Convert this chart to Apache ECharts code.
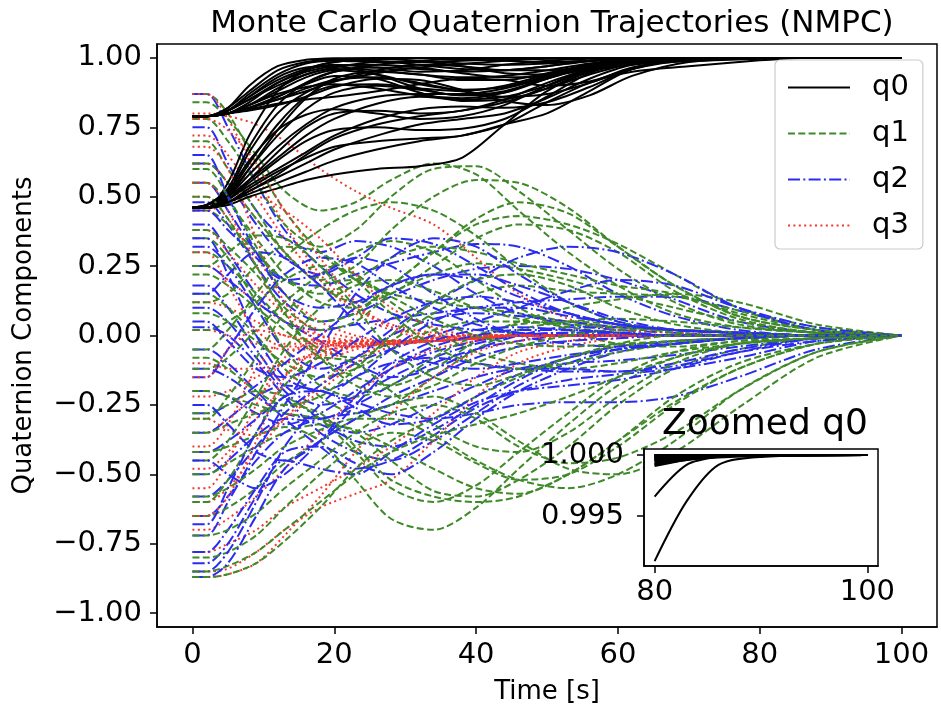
<!DOCTYPE html>
<html>
<head>
<meta charset="utf-8">
<title>Monte Carlo Quaternion Trajectories (NMPC)</title>
<script src="https://cdn.jsdelivr.net/npm/echarts@6/dist/echarts.min.js"></script>
<style>
  html, body { margin: 0; padding: 0; background: #fff; }
  #chart { width: 941px; height: 713px; }
</style>
</head>
<body>
<div id="chart"></div>
<script>
// time samples (s)
var timeQ0 = [0, 2, 5, 8, 12, 16, 20, 26, 32, 38, 44, 50, 56, 62, 70, 80, 83, 86, 90, 100];
var timeQ = [0, 2, 5, 9, 13, 18, 23, 28, 34, 40, 46, 53, 60, 68, 77, 88, 100];

// q0 runs (two starting clusters 0.79 / 0.46)
var q0Runs = [
  [0.79,0.79,0.82,0.90,0.97,0.993,0.999,1.0,1.0,1.0,1.0,1.0,1.0,1.0,1.0,1.0,1.0,1.0,1.0,1.0],
  [0.79,0.79,0.81,0.87,0.94,0.98,0.99,0.985,0.985,0.99,0.995,0.998,1.0,1.0,1.0,0.99995,1.0,1.0,1.0,1.0],
  [0.79,0.79,0.80,0.84,0.91,0.955,0.975,0.965,0.95,0.955,0.975,0.99,0.997,0.999,1.0,0.9998,0.99993,0.99998,1.0,1.0],
  [0.79,0.79,0.80,0.83,0.88,0.93,0.955,0.94,0.905,0.885,0.895,0.935,0.975,0.993,0.998,0.9995,0.9998,0.99993,0.99998,1.0],
  [0.79,0.79,0.80,0.82,0.86,0.905,0.935,0.925,0.875,0.845,0.85,0.89,0.94,0.98,0.996,0.9993,0.9997,0.9999,0.99997,1.0],
  [0.79,0.79,0.81,0.86,0.93,0.965,0.97,0.94,0.89,0.865,0.88,0.925,0.965,0.99,0.998,0.9997,0.9999,0.99996,1.0,1.0],
  [0.79,0.79,0.80,0.82,0.85,0.88,0.915,0.955,0.975,0.97,0.955,0.955,0.97,0.99,0.998,0.99985,0.99995,1.0,1.0,1.0],
  [0.79,0.79,0.80,0.81,0.83,0.86,0.895,0.925,0.92,0.885,0.845,0.83,0.865,0.935,0.985,0.9991,0.9996,0.9998,0.99993,1.0],
  [0.79,0.79,0.81,0.85,0.90,0.94,0.965,0.985,0.985,0.97,0.945,0.94,0.96,0.985,0.998,0.9999,0.99997,1.0,1.0,1.0],
  [0.79,0.79,0.80,0.83,0.87,0.895,0.905,0.89,0.865,0.855,0.875,0.93,0.975,0.994,0.999,0.9996,0.99985,0.99995,1.0,1.0],
  [0.79,0.79,0.82,0.88,0.955,0.985,0.995,0.99,0.975,0.96,0.955,0.97,0.988,0.997,1.0,1.0,1.0,1.0,1.0,1.0],
  [0.79,0.79,0.80,0.815,0.835,0.85,0.86,0.88,0.905,0.925,0.92,0.90,0.915,0.96,0.992,0.9994,0.9997,0.9999,0.99997,1.0],
  [0.79,0.79,0.81,0.86,0.92,0.96,0.985,0.995,0.99,0.98,0.975,0.98,0.99,0.997,1.0,1.0,1.0,1.0,1.0,1.0],
  [0.79,0.79,0.80,0.83,0.89,0.94,0.96,0.955,0.94,0.93,0.935,0.955,0.98,0.995,0.999,0.9998,0.99995,1.0,1.0,1.0],
  [0.79,0.79,0.81,0.85,0.91,0.95,0.97,0.975,0.965,0.945,0.93,0.935,0.96,0.985,0.998,0.9997,0.9999,1.0,1.0,1.0],
  [0.79,0.79,0.80,0.82,0.86,0.91,0.95,0.975,0.99,0.995,0.99,0.985,0.99,0.997,1.0,1.0,1.0,1.0,1.0,1.0],
  [0.79,0.79,0.80,0.82,0.85,0.89,0.92,0.93,0.91,0.88,0.86,0.87,0.91,0.965,0.994,0.9992,0.9996,0.9999,1.0,1.0],
  [0.46,0.46,0.55,0.72,0.88,0.955,0.985,0.997,1.0,1.0,1.0,1.0,1.0,1.0,1.0,1.0,1.0,1.0,1.0,1.0],
  [0.46,0.46,0.52,0.66,0.80,0.875,0.915,0.945,0.965,0.978,0.99,0.997,1.0,1.0,1.0,1.0,1.0,1.0,1.0,1.0],
  [0.46,0.47,0.51,0.60,0.72,0.815,0.875,0.90,0.885,0.865,0.875,0.925,0.97,0.993,0.999,0.99985,0.99995,1.0,1.0,1.0],
  [0.46,0.47,0.50,0.56,0.64,0.72,0.78,0.835,0.86,0.85,0.86,0.90,0.955,0.988,0.998,0.9997,0.9999,0.99997,1.0,1.0],
  [0.46,0.46,0.49,0.54,0.60,0.66,0.72,0.78,0.815,0.825,0.82,0.84,0.895,0.96,0.995,0.9995,0.9998,0.99993,0.99998,1.0],
  [0.46,0.46,0.48,0.52,0.57,0.62,0.67,0.72,0.76,0.78,0.80,0.855,0.925,0.975,0.996,0.9992,0.9997,0.9999,0.99997,1.0],
  [0.46,0.46,0.48,0.51,0.55,0.59,0.63,0.67,0.70,0.72,0.76,0.84,0.91,0.95,0.97,0.9913,0.9962,0.9992,0.99985,1.0],
  [0.46,0.46,0.47,0.50,0.53,0.56,0.58,0.60,0.61,0.64,0.76,0.88,0.95,0.975,0.988,0.9966,0.9992,0.99985,0.99998,1.0],
  [0.46,0.46,0.50,0.60,0.74,0.855,0.925,0.95,0.94,0.92,0.92,0.945,0.975,0.995,1.0,0.99995,1.0,1.0,1.0,1.0],
  [0.46,0.47,0.52,0.63,0.74,0.795,0.815,0.80,0.78,0.79,0.83,0.90,0.96,0.99,0.999,0.9998,0.99993,1.0,1.0,1.0],
  [0.46,0.46,0.49,0.55,0.63,0.70,0.74,0.75,0.74,0.745,0.78,0.86,0.945,0.985,0.998,0.9996,0.99985,0.99995,1.0,1.0],
  [0.46,0.46,0.48,0.53,0.59,0.64,0.68,0.70,0.71,0.72,0.76,0.80,0.88,0.96,0.995,0.9993,0.9997,0.9999,0.99998,1.0],
  [0.46,0.47,0.53,0.68,0.83,0.91,0.95,0.965,0.96,0.95,0.955,0.97,0.99,0.998,1.0,1.0,1.0,1.0,1.0,1.0],
  [0.46,0.46,0.50,0.58,0.68,0.76,0.82,0.86,0.87,0.87,0.89,0.93,0.97,0.993,0.999,0.9998,0.99995,1.0,1.0,1.0],
  [0.46,0.46,0.49,0.56,0.66,0.75,0.80,0.81,0.80,0.81,0.85,0.91,0.96,0.99,0.999,0.9997,0.9999,1.0,1.0,1.0],
  [0.46,0.46,0.51,0.62,0.76,0.86,0.90,0.905,0.89,0.88,0.90,0.94,0.975,0.995,1.0,0.99995,1.0,1.0,1.0,1.0],
  [0.46,0.46,0.48,0.52,0.58,0.65,0.71,0.76,0.79,0.81,0.84,0.89,0.95,0.985,0.998,0.9996,0.99985,1.0,1.0,1.0]
];

var q1Runs = [
  [0.87,0.87,0.80,0.62,0.45,0.30,0.20,0.15,0.12,0.10,0.08,0.05,0.03,0.02,0.01,0.0,0.0],
  [0.84,0.84,0.78,0.65,0.52,0.45,0.48,0.56,0.62,0.58,0.45,0.30,0.18,0.08,0.03,0.01,0.0],
  [0.78,0.78,0.70,0.55,0.40,0.32,0.38,0.50,0.60,0.61,0.52,0.38,0.24,0.12,0.04,0.01,0.0],
  [0.70,0.70,0.60,0.45,0.30,0.20,0.25,0.38,0.50,0.56,0.55,0.46,0.32,0.18,0.07,0.02,0.0],
  [0.62,0.62,0.55,0.42,0.30,0.18,0.12,0.15,0.25,0.35,0.40,0.38,0.30,0.16,0.06,0.01,0.0],
  [0.55,0.55,0.48,0.35,0.22,0.12,0.10,0.18,0.30,0.40,0.43,0.40,0.33,0.22,0.10,0.03,0.0],
  [0.45,0.45,0.40,0.30,0.20,0.15,0.20,0.28,0.32,0.30,0.26,0.22,0.18,0.15,0.08,0.02,0.0],
  [0.38,0.38,0.32,0.22,0.10,0.02,0.05,0.15,0.22,0.26,0.24,0.20,0.15,0.10,0.05,0.01,0.0],
  [0.30,0.30,0.25,0.15,0.05,-0.05,-0.08,-0.02,0.08,0.15,0.18,0.16,0.15,0.14,0.09,0.02,0.0],
  [0.22,0.22,0.18,0.10,0.02,-0.08,-0.15,-0.18,-0.12,-0.02,0.05,0.10,0.13,0.15,0.12,0.04,0.0],
  [0.15,0.15,0.10,0.0,-0.12,-0.22,-0.28,-0.25,-0.15,-0.05,0.02,0.05,0.06,0.05,0.03,0.01,0.0],
  [0.08,0.08,0.05,-0.02,-0.10,-0.15,-0.12,-0.05,0.02,0.05,0.05,0.04,0.03,0.02,0.01,0.0,0.0],
  [0.02,0.02,0.05,0.12,0.20,0.25,0.22,0.12,0.02,-0.06,-0.10,-0.12,-0.10,-0.06,-0.03,-0.01,0.0],
  [-0.05,-0.05,0.02,0.15,0.28,0.38,0.45,0.48,0.45,0.36,0.24,0.12,0.05,0.01,0.0,0.0,0.0],
  [-0.12,-0.12,-0.08,0.02,0.12,0.22,0.30,0.34,0.30,0.20,0.10,0.02,-0.03,-0.04,-0.02,-0.01,0.0],
  [-0.20,-0.20,-0.22,-0.25,-0.28,-0.30,-0.35,-0.45,-0.56,-0.58,-0.52,-0.40,-0.25,-0.12,-0.05,-0.01,0.0],
  [-0.28,-0.28,-0.25,-0.20,-0.22,-0.30,-0.42,-0.55,-0.60,-0.54,-0.42,-0.28,-0.15,-0.06,-0.02,0.0,0.0],
  [-0.35,-0.35,-0.32,-0.28,-0.25,-0.28,-0.40,-0.52,-0.58,-0.60,-0.58,-0.50,-0.38,-0.22,-0.10,-0.03,0.0],
  [-0.42,-0.42,-0.40,-0.36,-0.33,-0.38,-0.52,-0.66,-0.70,-0.62,-0.48,-0.32,-0.18,-0.08,-0.03,-0.01,0.0],
  [-0.50,-0.50,-0.46,-0.40,-0.35,-0.32,-0.34,-0.40,-0.48,-0.55,-0.57,-0.50,-0.38,-0.24,-0.12,-0.03,0.0],
  [-0.58,-0.58,-0.55,-0.48,-0.40,-0.34,-0.30,-0.30,-0.36,-0.45,-0.52,-0.55,-0.50,-0.38,-0.20,-0.06,0.0],
  [-0.65,-0.65,-0.62,-0.55,-0.46,-0.38,-0.30,-0.25,-0.22,-0.28,-0.38,-0.48,-0.50,-0.42,-0.26,-0.08,0.0],
  [-0.72,-0.72,-0.70,-0.64,-0.55,-0.45,-0.35,-0.28,-0.25,-0.30,-0.40,-0.46,-0.44,-0.35,-0.20,-0.06,0.0],
  [-0.80,-0.80,-0.78,-0.72,-0.62,-0.50,-0.40,-0.35,-0.38,-0.46,-0.52,-0.50,-0.40,-0.25,-0.12,-0.03,0.0],
  [-0.85,-0.85,-0.83,-0.78,-0.70,-0.60,-0.50,-0.42,-0.36,-0.32,-0.28,-0.22,-0.15,-0.08,-0.03,-0.01,0.0],
  [-0.87,-0.87,-0.86,-0.82,-0.74,-0.62,-0.48,-0.38,-0.30,-0.22,-0.15,-0.08,-0.04,-0.02,-0.01,0.0,0.0],
  [0.35,0.35,0.28,0.12,-0.05,-0.18,-0.22,-0.18,-0.08,0.0,0.04,0.05,0.04,0.02,0.01,0.0,0.0],
  [-0.30,-0.30,-0.22,-0.08,0.08,0.18,0.20,0.14,0.06,0.0,-0.03,-0.04,-0.03,-0.02,-0.01,0.0,0.0],
  [0.50,0.50,0.42,0.25,0.08,-0.08,-0.18,-0.22,-0.18,-0.10,-0.04,0.0,0.02,0.02,0.01,0.0,0.0],
  [-0.45,-0.45,-0.38,-0.22,-0.05,0.10,0.18,0.20,0.16,0.10,0.06,0.03,0.01,0.0,0.0,0.0,0.0],
  [0.12,0.12,0.15,0.25,0.32,0.30,0.20,0.08,-0.04,-0.10,-0.12,-0.10,-0.06,-0.03,-0.01,0.0,0.0],
  [-0.08,-0.08,-0.12,-0.20,-0.25,-0.22,-0.12,0.0,0.12,0.20,0.22,0.18,0.10,0.04,0.01,0.0,0.0],
  [0.60,0.60,0.50,0.32,0.15,0.05,0.08,0.18,0.30,0.42,0.48,0.44,0.32,0.18,0.07,0.02,0.0],
  [-0.60,-0.60,-0.52,-0.35,-0.18,-0.08,-0.10,-0.20,-0.32,-0.40,-0.42,-0.35,-0.22,-0.10,-0.03,-0.01,0.0],
  [0.25,0.25,0.30,0.36,0.35,0.25,0.10,-0.05,-0.15,-0.18,-0.14,-0.08,-0.03,0.0,0.0,0.0,0.0]
];

var q2Runs = [
  [0.87,0.87,0.75,0.55,0.38,0.25,0.15,0.08,0.04,0.02,0.01,0.0,0.0,0.0,0.0,0.0,0.0],
  [0.75,0.75,0.62,0.45,0.35,0.30,0.34,0.32,0.25,0.15,0.08,0.04,0.02,0.01,0.0,0.0,0.0],
  [0.62,0.62,0.55,0.40,0.28,0.22,0.28,0.35,0.33,0.25,0.16,0.08,0.04,0.02,0.01,0.0,0.0],
  [0.55,0.55,0.45,0.30,0.20,0.18,0.22,0.26,0.30,0.33,0.32,0.25,0.15,0.07,0.02,0.0,0.0],
  [0.48,0.48,0.40,0.25,0.12,0.05,0.08,0.14,0.20,0.24,0.25,0.24,0.20,0.13,0.05,0.01,0.0],
  [0.40,0.40,0.30,0.15,0.05,0.02,0.04,0.06,0.08,0.10,0.12,0.13,0.14,0.14,0.09,0.02,0.0],
  [0.32,0.32,0.25,0.10,-0.05,-0.12,-0.08,0.0,0.06,0.08,0.07,0.05,0.03,0.02,0.01,0.0,0.0],
  [0.25,0.25,0.20,0.12,0.05,-0.02,-0.10,-0.15,-0.12,-0.05,0.0,0.03,0.03,0.02,0.01,0.0,0.0],
  [0.18,0.18,0.10,-0.05,-0.18,-0.25,-0.22,-0.15,-0.08,-0.03,0.0,0.01,0.01,0.0,0.0,0.0,0.0],
  [0.10,0.10,0.05,-0.08,-0.20,-0.30,-0.35,-0.32,-0.25,-0.18,-0.12,-0.10,-0.09,-0.07,-0.04,-0.01,0.0],
  [0.03,0.03,0.0,-0.10,-0.22,-0.35,-0.42,-0.45,-0.38,-0.28,-0.18,-0.10,-0.05,-0.02,-0.01,0.0,0.0],
  [-0.05,-0.05,-0.10,-0.20,-0.30,-0.40,-0.48,-0.45,-0.36,-0.26,-0.20,-0.16,-0.14,-0.12,-0.08,-0.02,0.0],
  [-0.12,-0.12,-0.15,-0.22,-0.28,-0.30,-0.25,-0.18,-0.10,-0.05,-0.02,0.0,0.0,0.0,0.0,0.0,0.0],
  [-0.20,-0.20,-0.22,-0.28,-0.32,-0.28,-0.20,-0.12,-0.06,-0.02,0.0,0.01,0.01,0.0,0.0,0.0,0.0],
  [-0.28,-0.28,-0.25,-0.18,-0.10,0.0,0.10,0.18,0.22,0.22,0.18,0.12,0.06,0.02,0.01,0.0,0.0],
  [-0.35,-0.35,-0.30,-0.22,-0.18,-0.20,-0.24,-0.28,-0.30,-0.28,-0.25,-0.24,-0.24,-0.22,-0.15,-0.05,0.0],
  [-0.42,-0.42,-0.38,-0.30,-0.22,-0.15,-0.08,0.02,0.12,0.20,0.28,0.32,0.30,0.22,0.10,0.02,0.0],
  [-0.50,-0.50,-0.45,-0.36,-0.30,-0.32,-0.38,-0.40,-0.34,-0.25,-0.16,-0.08,-0.04,-0.02,-0.01,0.0,0.0],
  [-0.58,-0.58,-0.52,-0.40,-0.28,-0.18,-0.10,-0.05,0.0,0.05,0.10,0.16,0.20,0.18,0.10,0.03,0.0],
  [-0.65,-0.65,-0.58,-0.45,-0.35,-0.30,-0.28,-0.25,-0.20,-0.15,-0.12,-0.12,-0.13,-0.11,-0.06,-0.02,0.0],
  [-0.72,-0.72,-0.60,-0.42,-0.25,-0.05,0.15,0.28,0.35,0.32,0.22,0.12,0.05,0.02,0.01,0.0,0.0],
  [-0.78,-0.78,-0.70,-0.55,-0.42,-0.40,-0.46,-0.50,-0.42,-0.30,-0.20,-0.12,-0.06,-0.03,-0.01,0.0,0.0],
  [-0.82,-0.82,-0.75,-0.58,-0.45,-0.48,-0.50,-0.42,-0.32,-0.24,-0.20,-0.18,-0.16,-0.12,-0.06,-0.01,0.0],
  [-0.85,-0.85,-0.78,-0.60,-0.40,-0.25,-0.15,-0.10,-0.08,-0.10,-0.12,-0.13,-0.13,-0.10,-0.05,-0.01,0.0],
  [-0.87,-0.87,-0.82,-0.65,-0.48,-0.38,-0.30,-0.22,-0.15,-0.08,-0.04,-0.02,-0.01,0.0,0.0,0.0,0.0],
  [0.45,0.45,0.38,0.28,0.20,0.22,0.28,0.25,0.15,0.06,0.0,-0.03,-0.04,-0.03,-0.01,0.0,0.0],
  [-0.15,-0.15,-0.05,0.10,0.22,0.28,0.26,0.18,0.10,0.04,0.01,0.0,0.0,0.0,0.0,0.0,0.0],
  [0.05,0.05,-0.02,-0.12,-0.15,-0.10,-0.02,0.06,0.12,0.14,0.12,0.08,0.04,0.02,0.01,0.0,0.0],
  [0.35,0.35,0.22,0.0,-0.15,-0.20,-0.15,-0.05,0.05,0.10,0.10,0.07,0.04,0.02,0.01,0.0,0.0],
  [-0.25,-0.25,-0.32,-0.42,-0.45,-0.38,-0.25,-0.12,-0.04,0.0,0.02,0.02,0.01,0.0,0.0,0.0,0.0],
  [0.15,0.15,0.22,0.30,0.28,0.18,0.05,-0.05,-0.10,-0.12,-0.10,-0.07,-0.05,-0.03,-0.01,0.0,0.0],
  [-0.45,-0.45,-0.50,-0.55,-0.50,-0.38,-0.22,-0.10,-0.02,0.02,0.03,0.02,0.01,0.0,0.0,0.0,0.0],
  [0.65,0.65,0.50,0.30,0.15,0.10,0.12,0.18,0.22,0.20,0.14,0.08,0.04,0.02,0.01,0.0,0.0],
  [-0.68,-0.68,-0.55,-0.35,-0.22,-0.20,-0.26,-0.32,-0.30,-0.22,-0.14,-0.08,-0.05,-0.03,-0.01,0.0,0.0]
];

var q3Runs = [
  [0.87,0.87,0.78,0.58,0.40,0.22,0.10,0.03,0.0,-0.01,0.0,0.0,0.0,0.0,0.0,0.0,0.0],
  [0.80,0.80,0.79,0.76,0.70,0.60,0.52,0.46,0.40,0.28,0.15,0.06,0.02,0.01,0.0,0.0,0.0],
  [0.72,0.72,0.65,0.50,0.35,0.20,0.08,0.02,-0.01,-0.01,0.0,0.0,0.0,0.0,0.0,0.0,0.0],
  [0.62,0.62,0.55,0.42,0.30,0.18,0.10,0.04,0.01,0.0,0.0,0.0,0.0,0.0,0.0,0.0,0.0],
  [0.50,0.50,0.42,0.28,0.15,0.05,0.0,-0.02,-0.02,-0.01,0.0,0.0,0.0,0.0,0.0,0.0,0.0],
  [0.38,0.38,0.30,0.18,0.08,0.02,-0.01,-0.02,-0.02,-0.01,0.0,0.0,0.0,0.0,0.0,0.0,0.0],
  [0.25,0.25,0.20,0.12,0.05,0.0,-0.02,-0.03,-0.02,-0.01,0.0,0.0,0.0,0.0,0.0,0.0,0.0],
  [0.12,0.12,0.10,0.05,0.0,-0.03,-0.04,-0.03,-0.02,-0.01,0.0,0.0,0.0,0.0,0.0,0.0,0.0],
  [0.02,0.02,0.0,-0.03,-0.05,-0.05,-0.04,-0.03,-0.02,-0.01,0.0,0.0,0.0,0.0,0.0,0.0,0.0],
  [-0.10,-0.10,-0.12,-0.12,-0.10,-0.07,-0.04,-0.02,-0.01,0.0,0.0,0.0,0.0,0.0,0.0,0.0,0.0],
  [-0.22,-0.22,-0.20,-0.15,-0.10,-0.06,-0.03,-0.02,-0.01,0.0,0.0,0.0,0.0,0.0,0.0,0.0,0.0],
  [-0.35,-0.35,-0.30,-0.22,-0.14,-0.08,-0.04,-0.02,-0.01,0.0,0.0,0.0,0.0,0.0,0.0,0.0,0.0],
  [-0.48,-0.48,-0.42,-0.30,-0.18,-0.10,-0.05,-0.02,-0.01,0.0,0.0,0.0,0.0,0.0,0.0,0.0,0.0],
  [-0.60,-0.60,-0.55,-0.42,-0.30,-0.18,-0.08,-0.03,-0.01,0.0,0.0,0.0,0.0,0.0,0.0,0.0,0.0],
  [-0.70,-0.70,-0.66,-0.58,-0.48,-0.35,-0.22,-0.12,-0.05,-0.02,0.0,0.0,0.0,0.0,0.0,0.0,0.0],
  [-0.78,-0.78,-0.75,-0.70,-0.62,-0.55,-0.48,-0.40,-0.28,-0.15,-0.06,-0.02,0.0,0.0,0.0,0.0,0.0],
  [-0.85,-0.85,-0.84,-0.78,-0.70,-0.62,-0.57,-0.52,-0.38,-0.22,-0.10,-0.04,-0.01,0.0,0.0,0.0,0.0],
  [-0.87,-0.87,-0.86,-0.82,-0.72,-0.58,-0.42,-0.28,-0.15,-0.06,-0.02,0.0,0.0,0.0,0.0,0.0,0.0],
  [0.45,0.45,0.48,0.50,0.45,0.35,0.22,0.10,0.03,0.0,0.0,0.0,0.0,0.0,0.0,0.0,0.0],
  [-0.30,-0.30,-0.34,-0.36,-0.30,-0.20,-0.10,-0.04,-0.01,0.0,0.0,0.0,0.0,0.0,0.0,0.0,0.0],
  [0.55,0.55,0.45,0.25,0.08,-0.02,-0.03,-0.03,-0.02,-0.01,0.0,0.0,0.0,0.0,0.0,0.0,0.0],
  [-0.55,-0.55,-0.45,-0.25,-0.08,-0.02,-0.02,-0.03,-0.02,-0.01,0.0,0.0,0.0,0.0,0.0,0.0,0.0],
  [0.68,0.68,0.60,0.35,0.12,0.0,-0.03,-0.03,-0.02,-0.01,0.0,0.0,0.0,0.0,0.0,0.0,0.0],
  [-0.65,-0.65,-0.58,-0.38,-0.15,-0.05,-0.02,-0.02,-0.02,-0.01,0.0,0.0,0.0,0.0,0.0,0.0,0.0],
  [0.30,0.30,0.18,0.02,-0.04,-0.04,-0.03,-0.025,-0.02,-0.01,0.0,0.0,0.0,0.0,0.0,0.0,0.0],
  [-0.40,-0.40,-0.32,-0.12,-0.03,-0.03,-0.04,-0.03,-0.02,-0.01,0.0,0.0,0.0,0.0,0.0,0.0,0.0],
  [0.78,0.78,0.74,0.62,0.45,0.28,0.12,0.03,0.0,-0.01,0.0,0.0,0.0,0.0,0.0,0.0,0.0],
  [-0.15,-0.15,-0.05,0.02,0.0,-0.02,-0.03,-0.03,-0.02,-0.01,0.0,0.0,0.0,0.0,0.0,0.0,0.0]
];

// axis ticks
var xTicks = [0, 20, 40, 60, 80, 100];
var yTicks = [-1, -0.75, -0.5, -0.25, 0, 0.25, 0.5, 0.75, 1];
var insetXTicks = [80, 100];
var insetYTicks = [0.995, 1.0];

var font = 'DejaVu Sans';
var styles = {
  q0: { color: '#000000', width: 2, type: 'solid' },
  q1: { color: '#3f8a28', width: 2, type: [7, 3.3] },
  q2: { color: '#2b2bf2', width: 2, type: [12, 3.3, 2, 3.3] },
  q3: { color: '#f03a30', width: 2, type: [2, 3.4] }
};

function pairs(ts, vals, from) {
  var out = [];
  for (var i = 0; i < ts.length; i++) {
    if (ts[i] >= from) out.push([ts[i], vals[i]]);
  }
  return out;
}

function line(name, data, grid, z) {
  var st = grid === 0 ? styles[name] : styles.q0;
  return {
    type: 'line',
    name: name,
    xAxisIndex: grid,
    yAxisIndex: grid,
    data: data,
    symbol: 'none',
    showSymbol: false,
    smooth: 0.3,
    clip: true,
    silent: true,
    z: z,
    itemStyle: { color: st.color },
    lineStyle: st
  };
}

var series = [];
var nRuns = Math.max(q0Runs.length, q1Runs.length, q2Runs.length, q3Runs.length);
for (var i = 0; i < nRuns; i++) {
  if (q0Runs[i]) series.push(line('q0', pairs(timeQ0, q0Runs[i], 0), 0, 2));
  if (q1Runs[i]) series.push(line('q1', pairs(timeQ, q1Runs[i], 0), 0, 2));
  if (q2Runs[i]) series.push(line('q2', pairs(timeQ, q2Runs[i], 0), 0, 2));
  if (q3Runs[i]) series.push(line('q3', pairs(timeQ, q3Runs[i], 0), 0, 2));
}
// inset: same q0 runs, from t = 80 on
for (var j = 0; j < q0Runs.length; j++) {
  series.push(line('q0 zoom', pairs(timeQ0, q0Runs[j], 80), 1, 8));
}

function yFmt(v) {
  var s = Math.abs(v).toFixed(2);
  return (v < 0 ? '\u2212' : '') + s;
}

var axisCommon = {
  axisLine: { show: true, onZero: false, lineStyle: { color: '#000', width: 1.5 } },
  splitLine: { show: false }
};

var chart = echarts.init(document.getElementById('chart'), null, { renderer: 'canvas' });
chart.setOption({
  animation: false,
  backgroundColor: '#fff',
  textStyle: { fontFamily: font },
  title: [
    {
      text: 'Monte Carlo Quaternion Trajectories (NMPC)',
      left: 547, top: 3, textAlign: 'center',
      textStyle: { fontFamily: font, fontSize: 31, fontWeight: 'normal', color: '#000' }
    },
    {
      text: 'Zoomed q0',
      left: 760, top: 402, textAlign: 'center',
      textStyle: { fontFamily: font, fontSize: 36, fontWeight: 'normal', color: '#000' }
    }
  ],
  legend: {
    data: ['q0', 'q1', 'q2', 'q3'],
    orient: 'vertical',
    left: 775, top: 60,
    padding: [13, 14, 9, 12],
    itemWidth: 62, itemHeight: 29, itemGap: 17,
    borderColor: '#cccccc', borderWidth: 1.2, borderRadius: 5,
    backgroundColor: 'rgba(255,255,255,0.8)',
    selectedMode: false,
    itemStyle: { opacity: 0 },
    textStyle: { fontFamily: font, fontSize: 29, color: '#000', padding: [0, 0, 0, 17] }
  },
  grid: [
    { left: 157, top: 44, width: 780, height: 583, show: true, borderColor: '#000', borderWidth: 1.5, backgroundColor: 'transparent' },
    { left: 644, top: 449, width: 234, height: 117, show: true, borderColor: '#000', borderWidth: 1.5, backgroundColor: '#fff', z: 6 }
  ],
  xAxis: [
    Object.assign({}, axisCommon, {
      type: 'value', gridIndex: 0, min: -5, max: 105,
      axisTick: { show: true, customValues: xTicks, length: 7, lineStyle: { color: '#000', width: 1.5 } },
      axisLabel: { customValues: xTicks, fontSize: 29, color: '#000', margin: 14, fontFamily: font },
      name: 'Time [s]', nameLocation: 'middle', nameGap: 52,
      nameTextStyle: { fontSize: 26, color: '#000', fontFamily: font }
    }),
    Object.assign({}, axisCommon, {
      type: 'value', gridIndex: 1, min: 79, max: 101, z: 7,
      axisTick: { show: true, customValues: insetXTicks, length: 7, lineStyle: { color: '#000', width: 1.5 } },
      axisLabel: { customValues: insetXTicks, fontSize: 29, color: '#000', margin: 12, fontFamily: font }
    })
  ],
  yAxis: [
    Object.assign({}, axisCommon, {
      type: 'value', gridIndex: 0, min: -1.05, max: 1.05,
      axisTick: { show: true, customValues: yTicks, length: 7, lineStyle: { color: '#000', width: 1.5 } },
      axisLabel: { customValues: yTicks, fontSize: 29, color: '#000', margin: 15, fontFamily: font, formatter: yFmt },
      name: 'Quaternion Components', nameLocation: 'middle', nameGap: 120,
      nameTextStyle: { fontSize: 26, color: '#000', fontFamily: font }
    }),
    Object.assign({}, axisCommon, {
      type: 'value', gridIndex: 1, min: 0.9909, max: 1.0005, z: 7,
      axisTick: { show: true, customValues: insetYTicks, length: 7, lineStyle: { color: '#000', width: 1.5 } },
      axisLabel: { customValues: insetYTicks, fontSize: 29, color: '#000', margin: 20, fontFamily: font,
        formatter: function (v) { return v.toFixed(3); } }
    })
  ],
  series: series
});
</script>
</body>
</html>
